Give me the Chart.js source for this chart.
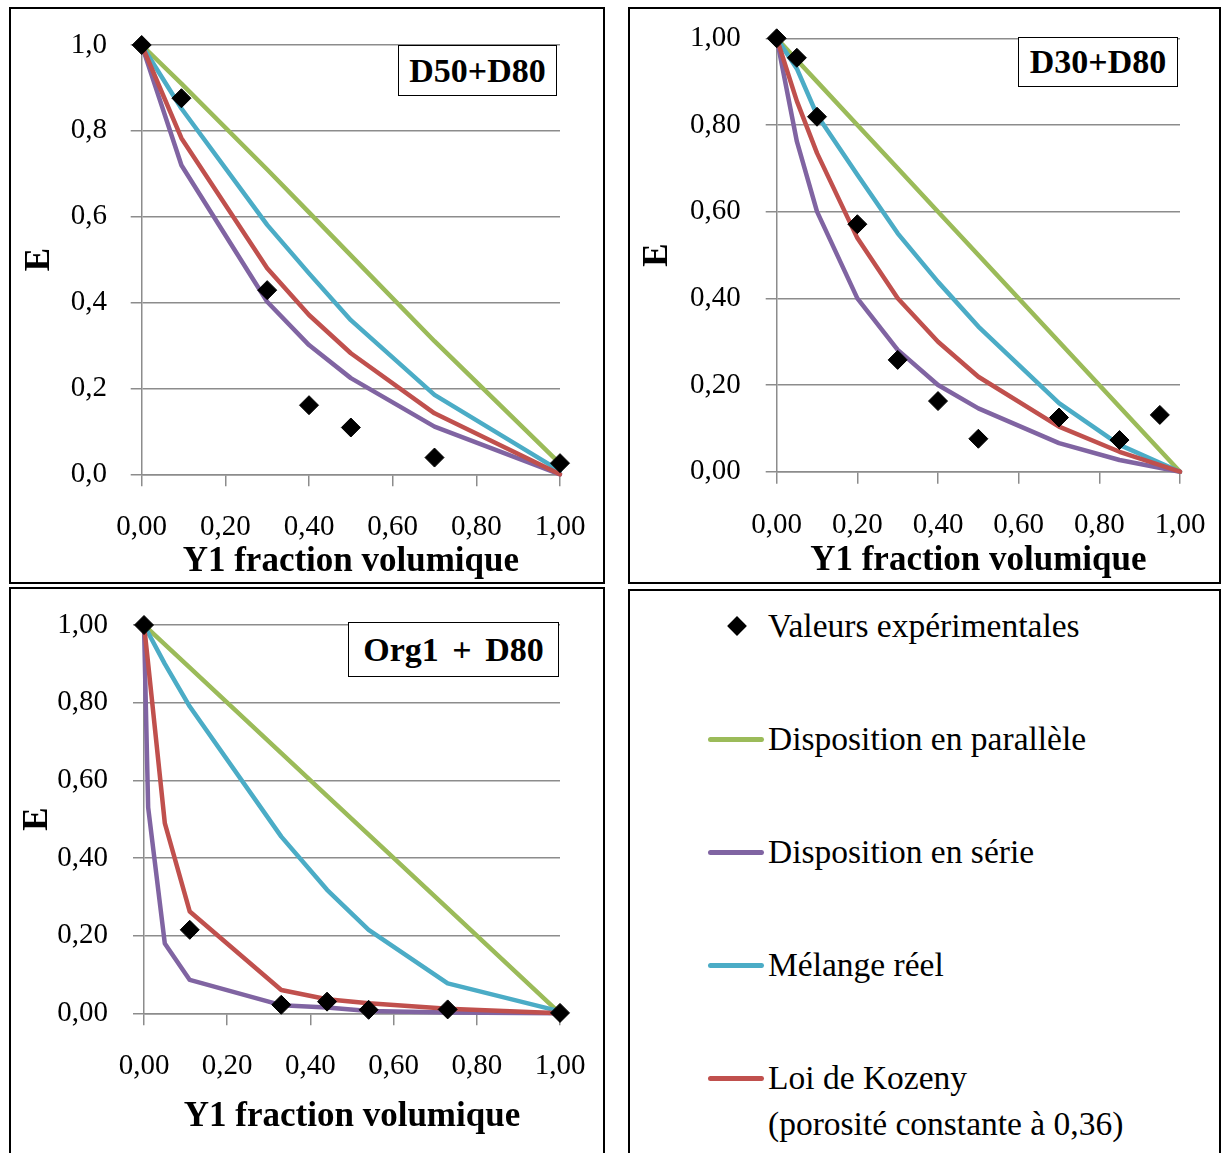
<!DOCTYPE html>
<html lang="fr">
<head>
<meta charset="utf-8">
<script src="https://cdn.jsdelivr.net/npm/chart.js@4.4.1/dist/chart.umd.min.js"></script>
<style>
  html, body { margin: 0; padding: 0; background: #fff; }
  body { width: 1221px; height: 1153px; position: relative; overflow: hidden; color: #000;
         font-family: 'Liberation Serif', 'Times New Roman', serif; }
  .panel { position: absolute; border: 2px solid #000; box-sizing: border-box; background: #fff; }
  .panel canvas { position: absolute; left: 0; top: 0; }
  .tag { position: absolute; border: 1.5px solid #000; background: #fff; font-weight: bold;
         font-size: 34px; display: flex; align-items: center; justify-content: center;
         box-sizing: border-box; white-space: nowrap; }
  .leg-text { position: absolute; font-size: 33.5px; height: 40px; line-height: 40px; white-space: nowrap; }
  .leg-line { position: absolute; height: 5px; border-radius: 3px; }
  .leg-diamond { position: absolute; width: 14px; height: 14px; background: #000; transform: rotate(45deg); }
</style>
</head>
<body>

<div class="panel" id="p1" style="left:9px; top:7px; width:596px; height:577px;"><canvas id="c1"></canvas></div>
<div class="panel" id="p2" style="left:628px; top:7px; width:593px; height:577px;"><canvas id="c2"></canvas></div>
<div class="panel" id="p3" style="left:9px; top:587px; width:596px; height:580px;"><canvas id="c3"></canvas></div>
<div class="panel" id="p4" style="left:628px; top:589px; width:593px; height:580px;"></div>

<div class="tag" style="left:398px; top:45px; width:159px; height:51px;">D50+D80</div>
<div class="tag" style="left:1018px; top:37px; width:160px; height:50px;">D30+D80</div>
<div class="tag" style="left:348px; top:622px; width:211px; height:55px; word-spacing:5px;">Org1 + D80</div>

<script>
// séries
const seriesNames = ['Valeurs expérimentales', 'Disposition en parallèle', 'Disposition en série',
                     'Mélange réel', 'Loi de Kozeny', '(porosité constante à 0,36)'];
const colors = { parallele: '#9BBB59', serie: '#8064A2', reel: '#4BACC6', kozeny: '#C0504D' };

// D50+D80
const d50X       = [0, 0.095, 0.3, 0.4, 0.5, 0.7, 1];
const d50Exp     = [1, 0.876, 0.429, 0.161, 0.109, 0.039, 0.026];
const d50Par     = [1, 0.91, 0.71, 0.61, 0.51, 0.31, 0.025];
const d50Serie   = [1, 0.72, 0.402, 0.301, 0.224, 0.111, 0];
const d50Reel    = [1, 0.852, 0.581, 0.468, 0.359, 0.185, 0.008];
const d50Kozeny  = [1, 0.783, 0.48, 0.371, 0.282, 0.142, 0];

// D30+D80
const d30ExpX    = [0, 0.05, 0.1, 0.2, 0.3, 0.4, 0.5, 0.7, 0.85, 0.95];
const d30Exp     = [1, 0.955, 0.819, 0.571, 0.258, 0.163, 0.076, 0.125, 0.073, 0.131];
const d30X       = [0, 0.05, 0.1, 0.2, 0.3, 0.4, 0.5, 0.7, 0.85, 1];
const d30Par     = [1, 0.95, 0.9, 0.8, 0.7, 0.6, 0.5, 0.3, 0.15, 0];
const d30Serie   = [1, 0.762, 0.6, 0.4, 0.281, 0.2, 0.146, 0.066, 0.027, 0];
const d30Reel    = [1, 0.93, 0.823, 0.685, 0.55, 0.438, 0.335, 0.158, 0.062, 0];
const d30Kozeny  = [1, 0.855, 0.735, 0.539, 0.4, 0.3, 0.219, 0.104, 0.046, 0];

// Org1 + D80
const orgExpX    = [0, 0.11, 0.33, 0.44, 0.54, 0.73, 1];
const orgExp     = [1, 0.215, 0.022, 0.03, 0.009, 0.01, 0.001];
const orgX       = [0, 0.01, 0.05, 0.11, 0.33, 0.44, 0.54, 0.73, 1];
const orgPar     = [1, 0.99, 0.95, 0.89, 0.67, 0.56, 0.46, 0.27, 0];
const orgSerie   = [1, 0.53, 0.18, 0.086, 0.021, 0.015, 0.006, 0.002, 0];
const orgReel    = [1, 0.98, 0.9, 0.79, 0.455, 0.318, 0.215, 0.077, 0.005];
const orgKozeny  = [1, 0.9, 0.49, 0.262, 0.06, 0.036, 0.026, 0.012, 0];

const xTitle = 'Y1 fraction volumique';
const yTitle = 'E';

const FAMILY = "'Liberation Serif', 'Times New Roman', serif";
const TICK_SIZE = 29;
const TITLE_SIZE = 35;
const GRID = '#8c8c8c';

function pts(xs, ys) {
  return xs.map((x, i) => ({ x: x, y: ys[i] }));
}

function lineSet(label, xs, ys, color) {
  return {
    label: label,
    data: pts(xs, ys),
    showLine: true,
    borderColor: color,
    backgroundColor: color,
    borderWidth: 4.5,
    borderJoinStyle: 'round',
    borderCapStyle: 'round',
    pointRadius: 0,
    clip: false
  };
}

function expSet(xs, ys) {
  return {
    label: seriesNames[0],
    data: pts(xs, ys),
    showLine: false,
    pointStyle: 'rectRot',
    pointRadius: 9.5,
    pointBorderWidth: 1,
    pointBackgroundColor: '#000',
    pointBorderColor: '#000',
    clip: false
  };
}

function drawPanel(canvasId, box, plot, pos, yDec, datasets) {
  const ox = box.left + 2, oy = box.top + 2;
  const cw = box.width - 4, ch = box.height - 4;
  const canvas = document.getElementById(canvasId);
  canvas.width = cw;
  canvas.height = ch;

  const yTick = 11, xTick = 12;
  const pl = plot.left - ox, pr = plot.right - ox, pt = plot.top - oy, pb = plot.bottom - oy;
  const xBottom = pos.xTitleMid - oy + TITLE_SIZE * 0.6;
  const xHeight = xBottom - pb;
  const yWidth = pl;

  function build(pad) {
    return new Chart(canvas.getContext('2d'), {
      type: 'scatter',
      data: { datasets: datasets },
      options: {
        responsive: false,
        animation: false,
        devicePixelRatio: 1,
        layout: { autoPadding: false, padding: pad },
        plugins: { legend: { display: false }, tooltip: { enabled: false } },
        scales: {
          x: {
            type: 'linear',
            min: 0, max: 1,
            afterFit: function(scale) {
              scale.height = xHeight;
              scale.paddingLeft = 0;
              scale.paddingRight = 0;
            },
            grid: { drawOnChartArea: false, drawTicks: true, tickLength: xTick, color: GRID, lineWidth: 1.5 },
            border: { display: true, color: GRID, width: 1.5 },
            ticks: {
              stepSize: 0.2, maxRotation: 0, autoSkip: false,
              padding: pos.xLabelMid - plot.bottom - xTick - TICK_SIZE * 0.6,
              color: '#000',
              font: { family: FAMILY, size: TICK_SIZE },
              callback: function(v) { return v.toFixed(2).replace('.', ','); }
            },
            title: {
              display: true, text: xTitle, color: '#000',
              padding: { top: 0, bottom: 0 },
              font: { family: FAMILY, size: TITLE_SIZE, weight: 'bold' }
            }
          },
          y: {
            type: 'linear',
            min: 0, max: 1,
            afterFit: function(scale) {
              scale.width = yWidth;
              scale.paddingTop = 0;
              scale.paddingBottom = 0;
            },
            grid: { drawTicks: true, tickLength: yTick, color: GRID, lineWidth: 1.5 },
            border: { display: true, color: GRID, width: 1.5 },
            ticks: {
              stepSize: 0.2,
              padding: plot.left - yTick - pos.yLabelRight,
              color: '#000',
              font: { family: FAMILY, size: TICK_SIZE },
              callback: function(v) { return v.toFixed(yDec).replace('.', ','); }
            },
            title: {
              display: true, text: yTitle, color: '#000',
              padding: { top: pos.yTitleMid - ox - TITLE_SIZE * 0.6, bottom: 0 },
              font: { family: FAMILY, size: TITLE_SIZE, weight: 'bold' }
            }
          }
        }
      }
    });
  }

  // on reconstruit jusqu'à ce que la zone de tracé tombe sur la cible
  let pad = { left: 0, top: pt, right: cw - pr, bottom: ch - xBottom };
  let chart = build(pad);
  for (let k = 0; k < 4; k++) {
    const ca = chart.chartArea;
    const dt = ca.top - pt, dr = ca.right - pr, dl = ca.left - pl, db = ca.bottom - pb;
    if (Math.abs(dt) < 0.2 && Math.abs(dr) < 0.2 && Math.abs(dl) < 0.2 && Math.abs(db) < 0.2) break;
    pad = { left: pad.left - dl, top: pad.top - dt, right: pad.right + dr, bottom: pad.bottom + db };
    chart.destroy();
    chart = build(pad);
  }
  return chart;
}

document.addEventListener('DOMContentLoaded', function() {
  drawPanel('c1',
    { left: 9, top: 7, width: 596, height: 577 },
    { left: 141.7, right: 560, top: 45, bottom: 474.3 },
    { yLabelRight: 107, xLabelMid: 527, xTitleMid: 561.7, yTitleMid: 40 },
    1,
    [
      expSet(d50X, d50Exp),
      lineSet(seriesNames[4], d50X, d50Kozeny, colors.kozeny),
      lineSet(seriesNames[3], d50X, d50Reel, colors.reel),
      lineSet(seriesNames[2], d50X, d50Serie, colors.serie),
      lineSet(seriesNames[1], d50X, d50Par, colors.parallele)
    ]);

  drawPanel('c2',
    { left: 628, top: 7, width: 593, height: 577 },
    { left: 776.7, right: 1180, top: 38.3, bottom: 471.7 },
    { yLabelRight: 740.7, xLabelMid: 525, xTitleMid: 561, yTitleMid: 658 },
    2,
    [
      expSet(d30ExpX, d30Exp),
      lineSet(seriesNames[4], d30X, d30Kozeny, colors.kozeny),
      lineSet(seriesNames[3], d30X, d30Reel, colors.reel),
      lineSet(seriesNames[2], d30X, d30Serie, colors.serie),
      lineSet(seriesNames[1], d30X, d30Par, colors.parallele)
    ]);

  drawPanel('c3',
    { left: 9, top: 587, width: 596, height: 580 },
    { left: 144, right: 560, top: 625, bottom: 1013.3 },
    { yLabelRight: 108, xLabelMid: 1066, xTitleMid: 1116.7, yTitleMid: 38 },
    2,
    [
      expSet(orgExpX, orgExp),
      lineSet(seriesNames[4], orgX, orgKozeny, colors.kozeny),
      lineSet(seriesNames[3], orgX, orgReel, colors.reel),
      lineSet(seriesNames[2], orgX, orgSerie, colors.serie),
      lineSet(seriesNames[1], orgX, orgPar, colors.parallele)
    ]);

  // légende commune (panneau en bas à droite)
  const p4 = document.getElementById('p4');
  const ox = 630, oy = 591;
  const rows = [
    { text: seriesNames[0], y: 626, mark: 'diamond' },
    { text: seriesNames[1], y: 739, mark: colors.parallele },
    { text: seriesNames[2], y: 852, mark: colors.serie },
    { text: seriesNames[3], y: 965, mark: colors.reel },
    { text: seriesNames[4], y: 1078, mark: colors.kozeny },
    { text: seriesNames[5], y: 1124, mark: null }
  ];
  rows.forEach(function(r) {
    if (r.mark === 'diamond') {
      const d = document.createElement('div');
      d.className = 'leg-diamond';
      d.style.left = (737 - ox - 7) + 'px';
      d.style.top = (r.y - oy - 7) + 'px';
      p4.appendChild(d);
    } else if (r.mark) {
      const l = document.createElement('div');
      l.className = 'leg-line';
      l.style.background = r.mark;
      l.style.left = (708 - ox) + 'px';
      l.style.width = '56px';
      l.style.top = (r.y - oy - 2.5) + 'px';
      p4.appendChild(l);
    }
    const t = document.createElement('div');
    t.className = 'leg-text';
    t.textContent = r.text;
    t.style.left = (768 - ox) + 'px';
    t.style.top = (r.y - oy - 20) + 'px';
    p4.appendChild(t);
  });
});
</script>
</body>
</html>
